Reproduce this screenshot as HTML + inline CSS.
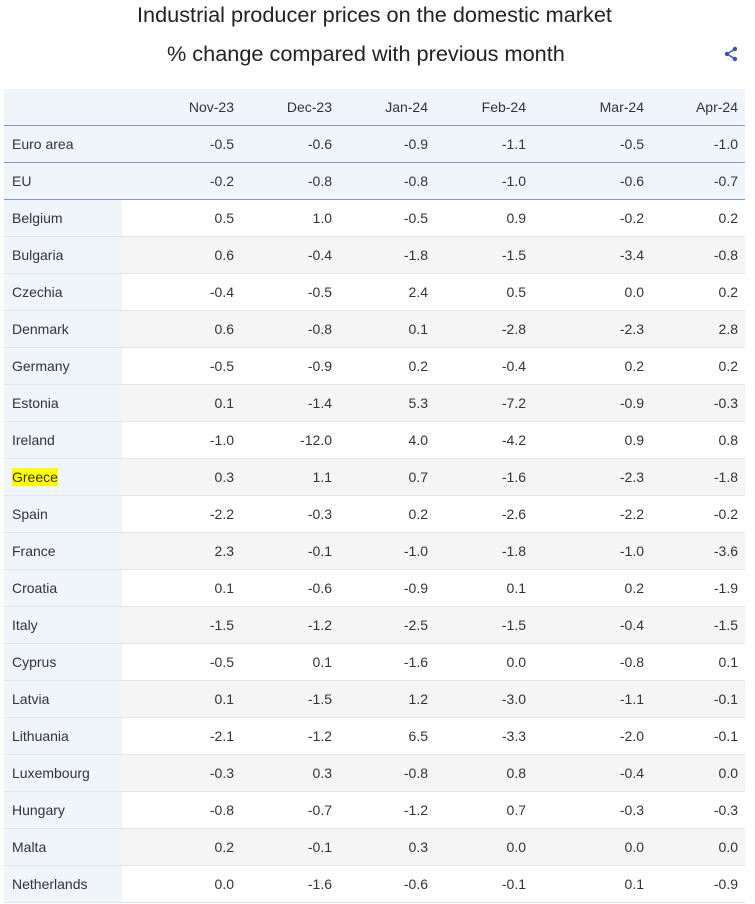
<!DOCTYPE html>
<html><head><meta charset="utf-8"><style>
body{margin:0;width:755px;height:904px;background:#fff;font-family:"Liberation Sans",Arial,sans-serif;color:#333;overflow:hidden;position:relative}
.t{position:absolute;font-size:21.7px;color:#222;white-space:nowrap}
.r{position:absolute;left:4px;width:741px;height:37px;font-size:14px;border-bottom:1px solid #dfe4ee;box-sizing:border-box}
.r span{position:absolute;top:10px;text-align:right}
.r .n{left:8px;text-align:left}
.c1{right:511px}.c2{right:413px}.c3{right:317px}.c4{right:219px}.c5{right:101px}.c6{right:7px}
.w{background:#fff}.g{background:#f5f5f5}
.w:before,.g:before{content:"";position:absolute;left:0;top:0;width:118px;height:36px;background:#f0f4fb}
.b{background:#f0f4fb;border-bottom:1px solid #7d97c9}
</style></head><body>
<div class="t" style="top:2px;left:137px">Industrial producer prices on the domestic market</div>
<div class="t" style="top:41px;left:167px">% change compared with previous month</div>
<svg style="position:absolute;left:724px;top:46px" width="14" height="16" viewBox="0 0 14 16"><circle cx="11" cy="3" r="2.2" fill="#3a55b0"/><circle cx="3" cy="8" r="2.2" fill="#3a55b0"/><circle cx="11" cy="13" r="2.2" fill="#3a55b0"/><path d="M11 3L3 8L11 13" stroke="#3a55b0" stroke-width="1.5" fill="none"/></svg>
<div class="r b" style="top:89px"><span class="c1">Nov-23</span><span class="c2">Dec-23</span><span class="c3">Jan-24</span><span class="c4">Feb-24</span><span class="c5">Mar-24</span><span class="c6">Apr-24</span></div>
<div class="r b" style="top:126px"><span class="n">Euro area</span><span class="c1">-0.5</span><span class="c2">-0.6</span><span class="c3">-0.9</span><span class="c4">-1.1</span><span class="c5">-0.5</span><span class="c6">-1.0</span></div>
<div class="r b" style="top:163px"><span class="n">EU</span><span class="c1">-0.2</span><span class="c2">-0.8</span><span class="c3">-0.8</span><span class="c4">-1.0</span><span class="c5">-0.6</span><span class="c6">-0.7</span></div>
<div class="r w" style="top:200px"><span class="n">Belgium</span><span class="c1">0.5</span><span class="c2">1.0</span><span class="c3">-0.5</span><span class="c4">0.9</span><span class="c5">-0.2</span><span class="c6">0.2</span></div>
<div class="r g" style="top:237px"><span class="n">Bulgaria</span><span class="c1">0.6</span><span class="c2">-0.4</span><span class="c3">-1.8</span><span class="c4">-1.5</span><span class="c5">-3.4</span><span class="c6">-0.8</span></div>
<div class="r w" style="top:274px"><span class="n">Czechia</span><span class="c1">-0.4</span><span class="c2">-0.5</span><span class="c3">2.4</span><span class="c4">0.5</span><span class="c5">0.0</span><span class="c6">0.2</span></div>
<div class="r g" style="top:311px"><span class="n">Denmark</span><span class="c1">0.6</span><span class="c2">-0.8</span><span class="c3">0.1</span><span class="c4">-2.8</span><span class="c5">-2.3</span><span class="c6">2.8</span></div>
<div class="r w" style="top:348px"><span class="n">Germany</span><span class="c1">-0.5</span><span class="c2">-0.9</span><span class="c3">0.2</span><span class="c4">-0.4</span><span class="c5">0.2</span><span class="c6">0.2</span></div>
<div class="r g" style="top:385px"><span class="n">Estonia</span><span class="c1">0.1</span><span class="c2">-1.4</span><span class="c3">5.3</span><span class="c4">-7.2</span><span class="c5">-0.9</span><span class="c6">-0.3</span></div>
<div class="r w" style="top:422px"><span class="n">Ireland</span><span class="c1">-1.0</span><span class="c2">-12.0</span><span class="c3">4.0</span><span class="c4">-4.2</span><span class="c5">0.9</span><span class="c6">0.8</span></div>
<div class="r g" style="top:459px"><span class="n" style="background:#ffff00;top:9px;padding:1px 0">Greece</span><span class="c1">0.3</span><span class="c2">1.1</span><span class="c3">0.7</span><span class="c4">-1.6</span><span class="c5">-2.3</span><span class="c6">-1.8</span></div>
<div class="r w" style="top:496px"><span class="n">Spain</span><span class="c1">-2.2</span><span class="c2">-0.3</span><span class="c3">0.2</span><span class="c4">-2.6</span><span class="c5">-2.2</span><span class="c6">-0.2</span></div>
<div class="r g" style="top:533px"><span class="n">France</span><span class="c1">2.3</span><span class="c2">-0.1</span><span class="c3">-1.0</span><span class="c4">-1.8</span><span class="c5">-1.0</span><span class="c6">-3.6</span></div>
<div class="r w" style="top:570px"><span class="n">Croatia</span><span class="c1">0.1</span><span class="c2">-0.6</span><span class="c3">-0.9</span><span class="c4">0.1</span><span class="c5">0.2</span><span class="c6">-1.9</span></div>
<div class="r g" style="top:607px"><span class="n">Italy</span><span class="c1">-1.5</span><span class="c2">-1.2</span><span class="c3">-2.5</span><span class="c4">-1.5</span><span class="c5">-0.4</span><span class="c6">-1.5</span></div>
<div class="r w" style="top:644px"><span class="n">Cyprus</span><span class="c1">-0.5</span><span class="c2">0.1</span><span class="c3">-1.6</span><span class="c4">0.0</span><span class="c5">-0.8</span><span class="c6">0.1</span></div>
<div class="r g" style="top:681px"><span class="n">Latvia</span><span class="c1">0.1</span><span class="c2">-1.5</span><span class="c3">1.2</span><span class="c4">-3.0</span><span class="c5">-1.1</span><span class="c6">-0.1</span></div>
<div class="r w" style="top:718px"><span class="n">Lithuania</span><span class="c1">-2.1</span><span class="c2">-1.2</span><span class="c3">6.5</span><span class="c4">-3.3</span><span class="c5">-2.0</span><span class="c6">-0.1</span></div>
<div class="r g" style="top:755px"><span class="n">Luxembourg</span><span class="c1">-0.3</span><span class="c2">0.3</span><span class="c3">-0.8</span><span class="c4">0.8</span><span class="c5">-0.4</span><span class="c6">0.0</span></div>
<div class="r w" style="top:792px"><span class="n">Hungary</span><span class="c1">-0.8</span><span class="c2">-0.7</span><span class="c3">-1.2</span><span class="c4">0.7</span><span class="c5">-0.3</span><span class="c6">-0.3</span></div>
<div class="r g" style="top:829px"><span class="n">Malta</span><span class="c1">0.2</span><span class="c2">-0.1</span><span class="c3">0.3</span><span class="c4">0.0</span><span class="c5">0.0</span><span class="c6">0.0</span></div>
<div class="r w" style="top:866px"><span class="n">Netherlands</span><span class="c1">0.0</span><span class="c2">-1.6</span><span class="c3">-0.6</span><span class="c4">-0.1</span><span class="c5">0.1</span><span class="c6">-0.9</span></div>
</body></html>
